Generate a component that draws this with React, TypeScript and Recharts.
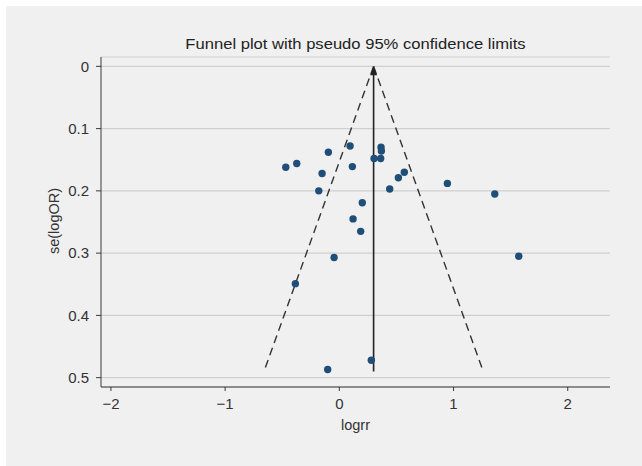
import React from 'react'
import { ScatterChart, Scatter, XAxis, YAxis, CartesianGrid, ReferenceLine } from 'recharts'

// study estimates
const logrr = [
  -0.469, -0.373, -0.096, 0.094, -0.151, 0.114, 0.304, 0.365, 0.368, 0.362, -0.18, 0.517,
  0.569, 0.441, 0.946, 1.361, 0.201, 0.12, 0.187, -0.046, 1.571, -0.385, 0.28, -0.102,
]
const seLogOR = [
  0.162, 0.156, 0.138, 0.128, 0.172, 0.161, 0.148, 0.13, 0.136, 0.148, 0.2, 0.179,
  0.17, 0.197, 0.188, 0.205, 0.219, 0.245, 0.265, 0.307, 0.305, 0.349, 0.472, 0.487,
]

// pseudo 95% limits (apex at pooled estimate, bottom at max se)
const pooled = 0.3
const limitSe = [0, 0.49]
const lowerLimit = [0.3, -0.66]
const upperLimit = [0.3, 1.26]

const xTicks = [-2, -1, 0, 1, 2]
const yTicks = [0, 0.1, 0.2, 0.3, 0.4, 0.5]

const points = logrr.map((x, i) => ({ x, y: seLogOR[i] }))

const FONT = '"Liberation Sans", Arial, sans-serif'
const AXIS = '#3a3a3a'

const fmt = (v: number) => (v < 0 ? '\u2212' + Math.abs(v) : String(v))

const Dot = (p: any) => <circle cx={p.cx} cy={p.cy} r={3.7} fill="#1f4e79" />

// vertical line at the pooled estimate, arrowhead at the top
const ArrowLine = (p: any) => {
  const { x1, y1, x2, y2 } = p
  const top = Math.min(y1, y2)
  const bot = Math.max(y1, y2)
  return (
    <g>
      <line x1={x1} y1={top + 4} x2={x2} y2={bot} stroke="#222" strokeWidth={1.6} />
      <polygon points={`${x1},${top} ${x1 - 3.5},${top + 9} ${x1 + 3.5},${top + 9}`} fill="#222" />
    </g>
  )
}

export default function App() {
  return (
    <div style={{ position: 'absolute', left: 6, top: 6, width: 636, height: 460, background: '#f0f0f0', fontFamily: FONT }}>
      <div
        style={{
          position: 'absolute', left: 95, width: 509, top: 29, textAlign: 'center', fontSize: 15.5, color: '#222',
          transform: 'scaleX(1.07)', transformOrigin: '255px 0',
        }}
      >
        Funnel plot with pseudo 95% confidence limits
      </div>
      <div style={{ position: 'absolute', left: 95, width: 509, top: 411, textAlign: 'center', fontSize: 14.5, color: '#333' }}>
        logrr
      </div>
      <div style={{ position: 'absolute', left: 48, top: 215, width: 0, height: 0, fontSize: 14.5, color: '#333' }}>
        <div style={{ position: 'absolute', transform: 'translate(-50%, -50%) rotate(-90deg)', whiteSpace: 'nowrap' }}>
          se(logOR)
        </div>
      </div>
      <ScatterChart width={636} height={460} margin={{ top: 51, right: 32, left: 0, bottom: 0 }} style={{ position: 'absolute', left: 0, top: 0 }}>
        <CartesianGrid vertical={false} stroke="#cfcfcf" strokeWidth={1.2} />
        <XAxis
          type="number"
          dataKey="x"
          domain={[-2.087, 2.37]}
          ticks={xTicks}
          tickFormatter={fmt}
          height={79}
          stroke={AXIS}
          tickSize={4}
          tickMargin={7}
          tick={{ fill: '#333', fontSize: 15, fontFamily: FONT }}
          allowDataOverflow
        />
        <YAxis
          type="number"
          dataKey="y"
          domain={[-0.015, 0.515]}
          reversed
          ticks={yTicks}
          width={95}
          stroke={AXIS}
          tickSize={5}
          tickMargin={7}
          tick={{ fill: '#333', fontSize: 15, fontFamily: FONT }}
          allowDataOverflow
        />
        <ReferenceLine
          segment={[{ x: lowerLimit[0], y: limitSe[0] }, { x: lowerLimit[1], y: limitSe[1] }]}
          stroke="#333"
          strokeWidth={1.4}
          strokeDasharray="8 5"
        />
        <ReferenceLine
          segment={[{ x: upperLimit[0], y: limitSe[0] }, { x: upperLimit[1], y: limitSe[1] }]}
          stroke="#333"
          strokeWidth={1.4}
          strokeDasharray="8 5"
        />
        <ReferenceLine
          segment={[{ x: pooled, y: limitSe[0] }, { x: pooled, y: limitSe[1] }]}
          shape={ArrowLine}
        />
        <Scatter data={points} shape={Dot} isAnimationActive={false} />
      </ScatterChart>
    </div>
  )
}
